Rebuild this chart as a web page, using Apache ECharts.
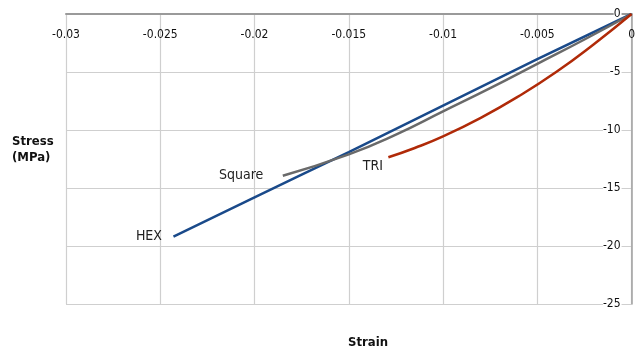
<!DOCTYPE html>
<html>
<head>
<meta charset="utf-8">
<script src="https://cdn.jsdelivr.net/npm/echarts@6/dist/echarts.min.js"></script>
<style>
html,body{margin:0;padding:0;background:#fff;}
#c{width:638px;height:348px;}
</style>
</head>
<body>
<div id="c"></div>
<script>
// ---- data ----
const hexStrain = [0, -0.005, -0.01, -0.015, -0.02, -0.0243];
const hexStress = [0, -3.9, -7.9, -11.9, -15.8, -19.2];
const squareStrain = [0, -0.0025, -0.005, -0.0075, -0.01, -0.0125, -0.015, -0.0185];
const squareStress = [0, -2.2, -4.3, -6.4, -8.4, -10.4, -12.1, -13.95];
const triStrain = [0, -0.002, -0.004, -0.006, -0.008, -0.01, -0.0115, -0.0129];
const triStress = [0, -2.6, -5.0, -7.1, -8.95, -10.55, -11.55, -12.35];
const seriesNames = ['HEX', 'Square', 'TRI'];
const xTitle = 'Strain';
const yTitle = 'Stress\n(MPa)';

const FONT = '"Liberation Sans Narrow", "DejaVu Sans Condensed", "Liberation Sans", sans-serif';

function pairs(xs, ys) { return xs.map((x, i) => [x, ys[i]]); }
function endMark(xs, ys, name, offset) {
  const n = xs.length - 1;
  return {
    silent: true,
    symbol: 'circle', symbolSize: 1,
    itemStyle: { color: 'rgba(0,0,0,0)' },
    label: { show: true, position: 'left', distance: 0, offset: offset,
      formatter: name, color: '#222', fontFamily: FONT, fontSize: 14 },
    data: [{ coord: [xs[n], ys[n]] }]
  };
}

const chart = echarts.init(document.getElementById('c'), null, { renderer: 'canvas' });
chart.setOption({
  animation: false,
  backgroundColor: '#fff',
  grid: { left: 66, right: 3, top: 14, bottom: 44, containLabel: false },
  title: [
    { text: xTitle, left: 343, top: 331, textStyle: { fontFamily: FONT, fontSize: 13, fontWeight: 'bold', color: '#111' } },
    { text: yTitle, left: 7, top: 129, textStyle: { fontFamily: FONT, fontSize: 13, fontWeight: 'bold', color: '#111', lineHeight: 16 } }
  ],
  xAxis: {
    type: 'value', min: -0.03, max: 0, interval: 0.005, position: 'top',
    axisLine: { show: true, onZero: false, lineStyle: { color: '#9a9a9a', width: 2 } },
    axisTick: { show: false },
    axisLabel: { inside: true, margin: 15, color: '#111', fontFamily: FONT, fontSize: 12, showMaxLabel: true, showMinLabel: true },
    splitLine: { show: true, lineStyle: { color: '#cfcfcf', width: 1.2 } }
  },
  yAxis: {
    type: 'value', min: -25, max: 0, interval: 5, position: 'right',
    axisLine: { show: true, onZero: false, lineStyle: { color: '#a0a0a0', width: 1.5 } },
    axisTick: { show: false },
    axisLabel: { inside: true, margin: 10, color: '#111', fontFamily: FONT, fontSize: 12,
      backgroundColor: '#fff', padding: [0, 1, 0, 0] },
    splitLine: { show: true, lineStyle: { color: '#cfcfcf', width: 1.2 } }
  },
  series: [
    { name: seriesNames[0], type: 'line', smooth: true, symbol: 'none',
      lineStyle: { color: '#1a4a8a', width: 2.5 }, itemStyle: { color: '#1a4a8a' },
      data: pairs(hexStrain, hexStress),
      markPoint: endMark(hexStrain, hexStress, seriesNames[0], [-11, 0]) },
    { name: seriesNames[1], type: 'line', smooth: true, symbol: 'none',
      lineStyle: { color: '#6a6a6a', width: 2.5 }, itemStyle: { color: '#6a6a6a' },
      data: pairs(squareStrain, squareStress),
      markPoint: endMark(squareStrain, squareStress, seriesNames[1], [-19, 0]) },
    { name: seriesNames[2], type: 'line', smooth: true, symbol: 'none',
      lineStyle: { color: '#b02a08', width: 2.5 }, itemStyle: { color: '#b02a08' },
      data: pairs(triStrain, triStress),
      markPoint: endMark(triStrain, triStress, seriesNames[2], [-5, 9]) }
  ]
});
</script>
</body>
</html>
